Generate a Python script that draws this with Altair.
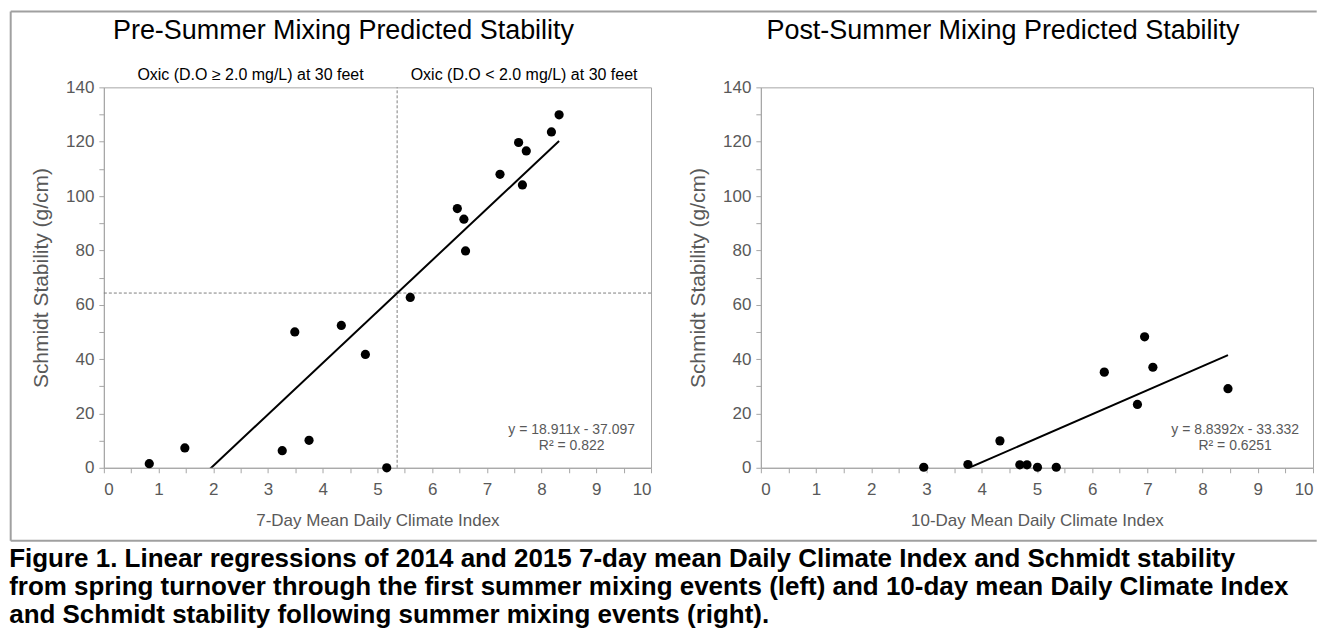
import altair as alt
import pandas as pd

# ---------------- data ----------------
left_x = [0.83, 1.48, 3.26, 3.49, 3.75, 4.34, 4.78, 5.17, 5.60, 6.46, 6.58, 6.61,
          7.24, 7.58, 7.65, 7.72, 8.18, 8.32]
left_y = [1.5, 7.3, 6.3, 50.0, 10.1, 52.4, 41.7, 0.0, 62.7, 95.4, 91.5, 79.8,
          108.0, 119.7, 104.1, 116.6, 123.6, 129.9]

right_x = [2.95, 3.75, 4.33, 4.69, 4.82, 5.01, 5.35, 6.22, 6.82, 6.95, 7.10, 8.46]
right_y = [0.2, 1.2, 9.9, 1.1, 1.1, 0.2, 0.2, 35.2, 23.3, 48.2, 37.0, 29.1]

left_fit = [18.911, -37.097]     # slope, intercept
right_fit = [8.8392, -33.332]
left_eq = ["y = 18.911x - 37.097", "R² = 0.822"]
right_eq = ["y = 8.8392x - 33.332", "R² = 0.6251"]
eq_x = [8.55, 8.59]
eq_y = [14, 8]

threshold_x = 5.36
threshold_y = 64.3
zone_labels = ["Oxic (D.O ≥ 2.0 mg/L) at 30 feet", "Oxic (D.O < 2.0 mg/L) at 30 feet"]
zone_x = [2.68, 7.68]

panel_titles = ["Pre-Summer Mixing Predicted Stability", "Post-Summer Mixing Predicted Stability"]
x_titles = ["7-Day Mean Daily Climate Index", "10-Day Mean Daily Climate Index"]
y_title = "Schmidt Stability (g/cm)"
caption = [
    "Figure 1.  Linear regressions of 2014 and 2015 7-day mean Daily Climate Index and Schmidt stability",
    "from spring turnover through the first summer mixing events (left) and 10-day mean Daily Climate Index",
    "and Schmidt stability following summer mixing events (right).",
]

x_ticks = [i / 2 for i in range(21)]
y_ticks = list(range(0, 141, 10))

FONT = "Liberation Sans"
GRAY = "#595959"
AXC = "#a6a6a6"
H = 381


def X(title):
    return alt.X("x:Q", scale=alt.Scale(domain=[0, 10], nice=False, zero=False),
                 axis=alt.Axis(values=x_ticks, title=title,
                               labelExpr="datum.value % 1 == 0 ? format(datum.value, 'd') : ''"))


def Y():
    return alt.Y("y:Q", scale=alt.Scale(domain=[0, 140], nice=False),
                 axis=alt.Axis(values=y_ticks, title=y_title,
                               labelExpr="datum.value % 20 == 0 ? format(datum.value, 'd') : ''"))


def panel(xs, ys, fit, eq, ex, title, xtitle, width, extra):
    pts = pd.DataFrame({"x": xs, "y": ys})
    lx = [min(xs), max(xs)]
    line_df = pd.DataFrame({"x": lx, "y": [fit[0] * v + fit[1] for v in lx]})
    eq_df = pd.DataFrame({"x": [ex, ex], "y": eq_y, "t": eq})
    title_df = pd.DataFrame({"x": [5], "y": [140], "t": [title]})

    layers = list(extra)
    layers.append(
        alt.Chart(line_df).mark_line(color="black", strokeWidth=2, clip=True)
        .encode(x=X(xtitle), y=Y()))
    layers.append(
        alt.Chart(pts).mark_circle(size=85, color="black", opacity=1)
        .encode(x=X(xtitle), y=Y()))
    layers.append(
        alt.Chart(eq_df).mark_text(font=FONT, fontSize=14, color=GRAY, align="center",
                                   baseline="middle")
        .encode(x=X(xtitle), y=Y(), text="t:N"))
    layers.append(
        alt.Chart(title_df).mark_text(font=FONT, fontSize=27, color="black", align="center",
                                      baseline="middle", dy=-56, dx=-34)
        .encode(x=X(xtitle), y=Y(), text="t:N"))
    return alt.layer(*layers).properties(width=width, height=H)


# left-only decorations: threshold lines, zone labels, outer frame
vline = alt.Chart(pd.DataFrame({"x": [threshold_x], "y": [0], "y2": [140]})).mark_rule(
    color="#808080", strokeWidth=1, strokeDash=[3, 2]).encode(x=X(x_titles[0]), y=Y(), y2="y2:Q")
hline = alt.Chart(pd.DataFrame({"x": [0], "x2": [10], "y": [threshold_y]})).mark_rule(
    color="#808080", strokeWidth=1, strokeDash=[3, 2]).encode(x=X(x_titles[0]), x2="x2:Q", y=Y())
zones = alt.Chart(pd.DataFrame({"x": zone_x, "y": [140, 140], "t": zone_labels})).mark_text(
    font=FONT, fontSize=16, color="black", align="center", baseline="middle", dy=-12
).encode(x=X(x_titles[0]), y=Y(), text="t:N")

one = pd.DataFrame({"k": [0]})
FL, FT, FB, FR = -93.3, -76, 454, 1214.7
frame_top = alt.Chart(one).mark_rule(color="#a0a0a0", strokeWidth=2).encode(
    x=alt.value(FL), x2=alt.value(FR), y=alt.value(FT))
frame_left = alt.Chart(one).mark_rule(color="#a0a0a0", strokeWidth=2).encode(
    x=alt.value(FL), y=alt.value(FT), y2=alt.value(FB))
frame_bottom = alt.Chart(one).mark_rule(color="#a0a0a0", strokeWidth=2).encode(
    x=alt.value(FL), x2=alt.value(FR), y=alt.value(FB))

left = panel(left_x, left_y, left_fit, left_eq, eq_x[0], panel_titles[0], x_titles[0], 548,
             [frame_top, frame_left, frame_bottom, vline, hline, zones])
right = panel(right_x, right_y, right_fit, right_eq, eq_x[1], panel_titles[1], x_titles[1], 553, [])

chart = alt.hconcat(
    left, right, spacing=110, bounds="flush",
    title=alt.TitleParams(text=caption, orient="bottom", anchor="start", frame="bounds",
                          font=FONT, fontSize=26, fontWeight="bold", color="black",
                          lineHeight=28, offset=4),
).properties(
    padding={"left": 1, "top": 1, "right": 0, "bottom": 2}
).configure_view(
    stroke=AXC, strokeWidth=1
).configure_axis(
    grid=False, labelFont=FONT, labelFontSize=17, labelColor=GRAY,
    titleFont=FONT, titleFontSize=17, titleFontWeight="normal", titleColor=GRAY,
    tickColor=AXC, domainColor=AXC, tickSize=5, labelOverlap=False,
).configure_axisX(
    labelPadding=9, titlePadding=15
).configure_axisY(
    labelPadding=5, titlePadding=14, titleFontSize=21
)

chart.save("out.html", embed_options={"renderer": "svg", "actions": False})
